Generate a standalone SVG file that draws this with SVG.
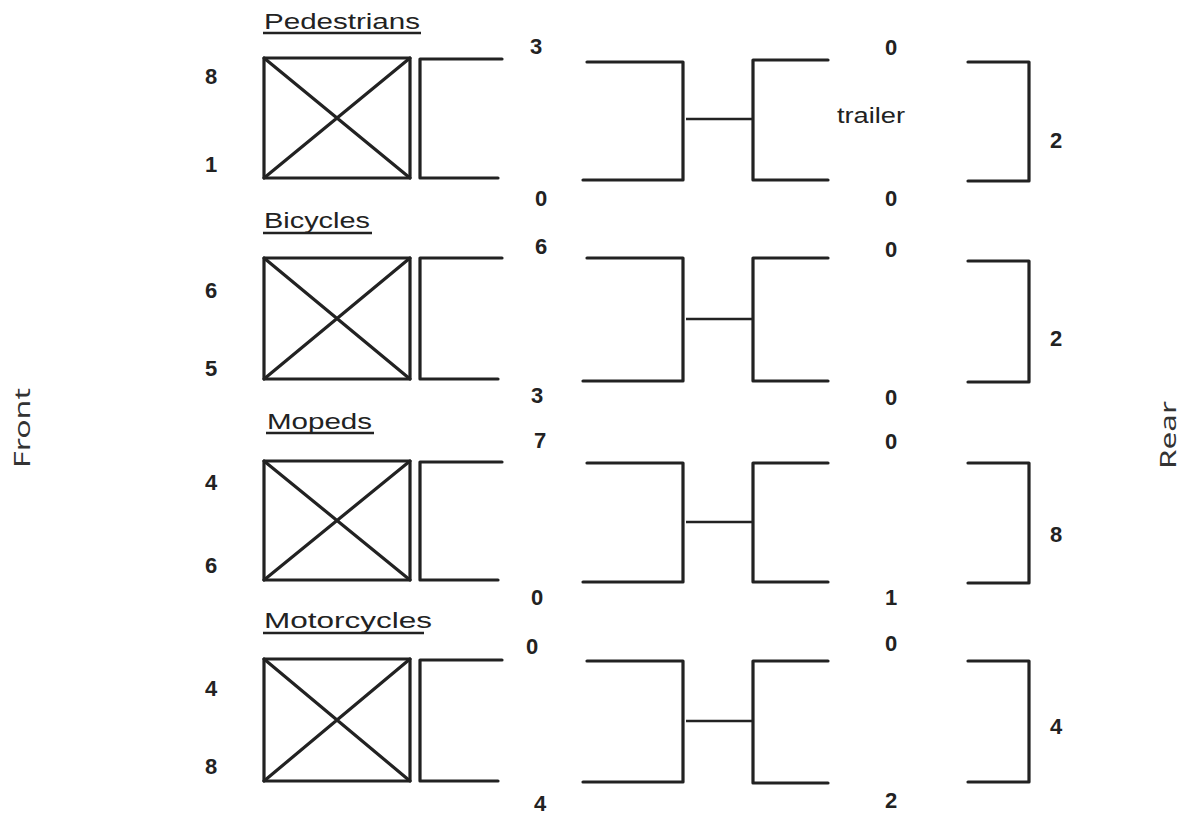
<svg xmlns="http://www.w3.org/2000/svg" width="1184" height="817" viewBox="0 0 1184 817">
<style>
.ln{fill:none;stroke:#222;stroke-width:3.2;stroke-linecap:round;stroke-linejoin:round}
.thin{fill:none;stroke:#222;stroke-width:2.6;stroke-linecap:butt}
.num{font-family:"Liberation Sans",Arial,sans-serif;font-weight:bold;font-size:22px;fill:#222;text-anchor:middle}
.word{font-family:"Liberation Sans",Arial,sans-serif;font-size:22px;fill:#222}
.side{font-family:"Noto Sans","DejaVu Sans",sans-serif;font-size:22px;fill:#333;text-anchor:middle}
.ul{stroke:#222;stroke-width:2.5}
</style>
<rect width="1184" height="817" fill="#fff"/>
<text class="side" transform="translate(30,428) rotate(-90)" textLength="80" lengthAdjust="spacingAndGlyphs">Front</text>
<text class="side" transform="translate(1176,435) rotate(-90)" textLength="68" lengthAdjust="spacingAndGlyphs">Rear</text>

<g id="pedestrians">
<text class="word" x="264" y="29" textLength="156" lengthAdjust="spacingAndGlyphs">Pedestrians</text>
<line class="ul" x1="263" y1="33" x2="421" y2="33"/>
<rect class="ln" x="264" y="58" width="146" height="120"/>
<path class="ln" d="M264 58L410 178M410 58L264 178"/>
<text class="num" x="211" y="84">8</text>
<text class="num" x="211" y="172">1</text>
<text class="num" x="536" y="54">3</text>
<text class="num" x="541" y="206">0</text>
<text class="num" x="891" y="55">0</text>
<text class="num" x="891" y="206">0</text>
<text class="word" x="837" y="123" font-size="21" textLength="68" lengthAdjust="spacingAndGlyphs">trailer</text>
<text class="num" x="1056" y="148">2</text>
</g>

<g id="bicycles">
<text class="word" x="264" y="228" textLength="106" lengthAdjust="spacingAndGlyphs">Bicycles</text>
<line class="ul" x1="263" y1="233" x2="372" y2="233"/>
<rect class="ln" x="264" y="258" width="146" height="121"/>
<path class="ln" d="M264 258L410 379M410 258L264 379"/>
<text class="num" x="211" y="298">6</text>
<text class="num" x="211" y="376">5</text>
<text class="num" x="541" y="254">6</text>
<text class="num" x="537" y="403">3</text>
<text class="num" x="891" y="257">0</text>
<text class="num" x="891" y="405">0</text>
<text class="num" x="1056" y="346">2</text>
</g>

<g id="mopeds">
<text class="word" x="267" y="429" textLength="105" lengthAdjust="spacingAndGlyphs">Mopeds</text>
<line class="ul" x1="266" y1="433" x2="374" y2="433"/>
<rect class="ln" x="264" y="461" width="146" height="119"/>
<path class="ln" d="M264 461L410 580M410 461L264 580"/>
<text class="num" x="211" y="490">4</text>
<text class="num" x="211" y="573">6</text>
<text class="num" x="540" y="448">7</text>
<text class="num" x="537" y="605">0</text>
<text class="num" x="891" y="449">0</text>
<text class="num" x="891" y="605">1</text>
<text class="num" x="1056" y="542">8</text>
</g>

<g id="motorcycles">
<text class="word" x="264" y="628" textLength="168" lengthAdjust="spacingAndGlyphs">Motorcycles</text>
<line class="ul" x1="263" y1="633" x2="424" y2="633"/>
<rect class="ln" x="264" y="659" width="146" height="122"/>
<path class="ln" d="M264 659L410 781M410 659L264 781"/>
<text class="num" x="211" y="696">4</text>
<text class="num" x="211" y="774">8</text>
<text class="num" x="532" y="654">0</text>
<text class="num" x="540" y="811">4</text>
<text class="num" x="891" y="651">0</text>
<text class="num" x="891" y="808">2</text>
<text class="num" x="1056" y="734">4</text>
</g>

<g id="connectors">
<path class="ln" d="M502 59H420V178H498"/>
<path class="ln" d="M587 62H683V180H583"/>
<line class="thin" x1="686" y1="119" x2="752" y2="119"/>
<path class="ln" d="M828 60H753V180H828"/>
<path class="ln" d="M968 62H1029V181H968"/>
<path class="ln" d="M502 258H420V379H498"/>
<path class="ln" d="M587 258H683V381H583"/>
<line class="thin" x1="686" y1="319" x2="752" y2="319"/>
<path class="ln" d="M828 258H753V381H828"/>
<path class="ln" d="M968 261H1029V382H968"/>
<path class="ln" d="M502 462H420V580H498"/>
<path class="ln" d="M587 463H683V582H583"/>
<line class="thin" x1="686" y1="522" x2="752" y2="522"/>
<path class="ln" d="M828 463H753V582H828"/>
<path class="ln" d="M968 463H1029V583H968"/>
<path class="ln" d="M502 660H420V781H498"/>
<path class="ln" d="M587 661H683V782H583"/>
<line class="thin" x1="686" y1="721" x2="752" y2="721"/>
<path class="ln" d="M828 661H753V783H828"/>
<path class="ln" d="M968 661H1029V782H968"/>
</g>
</svg>
